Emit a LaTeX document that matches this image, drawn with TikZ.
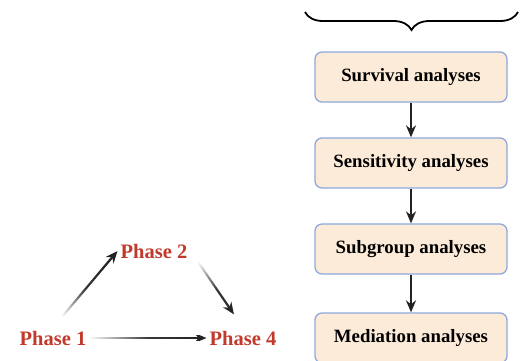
\documentclass[tikz,border=0pt]{standalone}
\usepackage{fontspec}
\setmainfont{Liberation Serif}
\usetikzlibrary{calc,positioning,arrows.meta,decorations.pathreplacing,fadings}

\definecolor{phasered}{HTML}{C0392B}
\definecolor{boxfill}{HTML}{FCEBD8}
\definecolor{boxedge}{HTML}{8EA9DB}
\definecolor{arrowgray}{HTML}{222222}

\tikzfading[name=fadein, left color=transparent!100, right color=transparent!0, middle color=transparent!10]

\begin{document}
\begin{tikzpicture}[x=1pt, y=-1pt,
		phase/.style={text=phasered, inner sep=3pt, font=\fontsize{20.5}{24}\selectfont\bfseries},
		stage/.style={draw=boxedge, line width=1.3pt, fill=boxfill, rounded corners=7pt,
			minimum width=192pt, minimum height=50pt, font=\fontsize{18.8}{22}\selectfont\bfseries},
		link/.style={-{Stealth[length=12pt,width=10pt]}, line width=2.2pt, draw=arrowgray},
		fadelink/.style={link, path fading=fadein, fading angle=#1}]
		\useasboundingbox (0,0) rectangle (524,360);

		% analysis steps
		\node[stage] (surv) at (411, 77) {Survival analyses};
		\node[stage] (sens) at (411, 163) {Sensitivity analyses};
		\node[stage] (subg) at (411, 249) {Subgroup analyses};
		\node[stage] (medi) at (411, 338) {Mediation analyses};

		\draw[link] (surv) -- (sens);
		\draw[link] (sens) -- (subg);
		\draw[link] (subg) -- (medi);

		% brace over the steps
		\coordinate (bl) at (305, 12);
		\coordinate (br) at (518, 12);
		\draw[line width=1.8pt, decorate, decoration={brace, mirror, amplitude=18pt}] (bl) -- (br);

		% phases
		\node[phase] (p1) at (53, 338) {Phase 1};
		\node[phase] (p2) at (154, 251) {Phase 2};
		\node[phase] (p4) at (243, 338) {Phase 4};

		\draw[fadelink=42, shorten <=5pt] (p1.north) -- (p2.west);
		\draw[fadelink=-48, shorten <=-2pt, shorten >=16pt] (p2.east) -- (p4.north);
		\draw[fadelink=0] (p1.east) -- (p4.west);
	\end{tikzpicture}
\end{document}
